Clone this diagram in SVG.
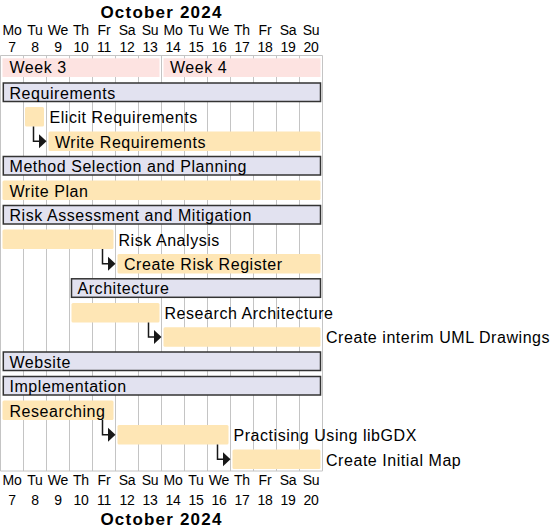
<svg xmlns="http://www.w3.org/2000/svg" width="552" height="531" viewBox="0 0 552 531">
<style>
text{font-family:"Liberation Sans",Arial,Helvetica,sans-serif;fill:#000}
.title{font-size:17px;font-weight:bold;letter-spacing:1.2px;text-anchor:middle}
.day{font-size:14px;text-anchor:middle;letter-spacing:-0.2px}
.lbl{font-size:16px;letter-spacing:0.55px}
.grid{stroke:#c4c4c4;stroke-width:1;fill:none}
.week{fill:#fde3e1}
.task{fill:#fee6b5}
.sep{fill:#e2e2f0;stroke:#333;stroke-width:1.5}
.conn{stroke:#181818;stroke-width:1.5;fill:none}
.head{fill:#181818}
</style>
<rect width="552" height="531" fill="#fff"/>
<g id="calendar">
<text class="title" x="161.5" y="17.5">October 2024</text>
<g class="day">
<text x="12" y="35">Mo</text><text x="35" y="35">Tu</text><text x="58" y="35">We</text><text x="81" y="35">Th</text><text x="104" y="35">Fr</text><text x="127" y="35">Sa</text><text x="150" y="35">Su</text><text x="173" y="35">Mo</text><text x="196" y="35">Tu</text><text x="219" y="35">We</text><text x="242" y="35">Th</text><text x="265" y="35">Fr</text><text x="288" y="35">Sa</text><text x="311" y="35">Su</text>
<text x="12" y="51.5">7</text><text x="35" y="51.5">8</text><text x="58" y="51.5">9</text><text x="81" y="51.5">10</text><text x="104" y="51.5">11</text><text x="127" y="51.5">12</text><text x="150" y="51.5">13</text><text x="173" y="51.5">14</text><text x="196" y="51.5">15</text><text x="219" y="51.5">16</text><text x="242" y="51.5">17</text><text x="265" y="51.5">18</text><text x="288" y="51.5">19</text><text x="311" y="51.5">20</text>
<text x="12" y="485">Mo</text><text x="35" y="485">Tu</text><text x="58" y="485">We</text><text x="81" y="485">Th</text><text x="104" y="485">Fr</text><text x="127" y="485">Sa</text><text x="150" y="485">Su</text><text x="173" y="485">Mo</text><text x="196" y="485">Tu</text><text x="219" y="485">We</text><text x="242" y="485">Th</text><text x="265" y="485">Fr</text><text x="288" y="485">Sa</text><text x="311" y="485">Su</text>
<text x="12" y="504.5">7</text><text x="35" y="504.5">8</text><text x="58" y="504.5">9</text><text x="81" y="504.5">10</text><text x="104" y="504.5">11</text><text x="127" y="504.5">12</text><text x="150" y="504.5">13</text><text x="173" y="504.5">14</text><text x="196" y="504.5">15</text><text x="219" y="504.5">16</text><text x="242" y="504.5">17</text><text x="265" y="504.5">18</text><text x="288" y="504.5">19</text><text x="311" y="504.5">20</text>
</g>
<text class="title" x="161.5" y="525">October 2024</text>
<path class="grid" d="M0.5 55.5H322.5M0.5 471H322.5M0.5 55.5V471M23.5 55.5V471M46.5 55.5V471M69.5 55.5V471M92.5 55.5V471M115.5 55.5V471M138.5 55.5V471M161.5 55.5V471M184.5 55.5V471M207.5 55.5V471M230.5 55.5V471M253.5 55.5V471M276.5 55.5V471M299.5 55.5V471M322.5 55.5V471"/>
</g>
<g id="week3"><rect class="week" x="2.5" y="58.3" width="157" height="18.7"/><text class="lbl" x="9.5" y="73.3">Week 3</text></g>
<g id="week4"><rect class="week" x="163.5" y="58.3" width="157" height="18.7"/><text class="lbl" x="170" y="73.3">Week 4</text></g>

<g id="requirements"><rect class="sep" x="3.3" y="83" width="317.2" height="18.5"/><text class="lbl" x="9.5" y="98.5">Requirements</text></g>
<g id="elicit-requirements"><rect class="task" x="25" y="107" width="19" height="19.5" rx="1.5"/><text class="lbl" x="49.5" y="123">Elicit Requirements</text></g>
<g id="write-requirements"><rect class="task" x="48.5" y="131.5" width="272" height="19.5" rx="1.5"/><text class="lbl" x="55" y="147.5">Write Requirements</text></g>
<g id="method-selection"><rect class="sep" x="3.3" y="156.5" width="317.2" height="18.5"/><text class="lbl" x="9.5" y="172">Method Selection and Planning</text></g>
<g id="write-plan"><rect class="task" x="2.5" y="180.5" width="318" height="19.5" rx="1.5"/><text class="lbl" x="9.5" y="196.5">Write Plan</text></g>
<g id="risk-assessment"><rect class="sep" x="3.3" y="205.5" width="317.2" height="18.5"/><text class="lbl" x="9.5" y="221">Risk Assessment and Mitigation</text></g>
<g id="risk-analysis"><rect class="task" x="2.5" y="229.5" width="111" height="19.5" rx="1.5"/><text class="lbl" x="118.5" y="245.5">Risk Analysis</text></g>
<g id="create-risk-register"><rect class="task" x="117.5" y="254" width="203" height="19.5" rx="1.5"/><text class="lbl" x="124" y="270">Create Risk Register</text></g>
<g id="architecture"><rect class="sep" x="71.5" y="278.8" width="249" height="18.5"/><text class="lbl" x="77.5" y="294.3">Architecture</text></g>
<g id="research-architecture"><rect class="task" x="71.5" y="303" width="88" height="19.5" rx="1.5"/><text class="lbl" x="164.5" y="319">Research Architecture</text></g>
<g id="create-uml"><rect class="task" x="163.5" y="327.3" width="157" height="19.5" rx="1.5"/><text class="lbl" x="326" y="343.3">Create interim UML Drawings</text></g>
<g id="website"><rect class="sep" x="3.3" y="352" width="317.2" height="18.5"/><text class="lbl" x="9.5" y="367.5">Website</text></g>
<g id="implementation"><rect class="sep" x="3.3" y="376.5" width="317.2" height="18.5"/><text class="lbl" x="9.5" y="392">Implementation</text></g>
<g id="researching"><rect class="task" x="2.5" y="400.5" width="111" height="19.5" rx="1.5"/><text class="lbl" x="9.5" y="416.5">Researching</text></g>
<g id="practising-libgdx"><rect class="task" x="117.5" y="425" width="111" height="19.5" rx="1.5"/><text class="lbl" x="233.5" y="441">Practising Using libGDX</text></g>
<g id="create-initial-map"><rect class="task" x="232.5" y="449.5" width="88" height="19.5" rx="1.5"/><text class="lbl" x="326" y="465.5">Create Initial Map</text></g>

<g id="connectors">
<path class="conn" d="M33.5 126.5V141.3H40"/><polygon class="head" points="39,134.3 46.5,141.3 39,148.3"/>
<path class="conn" d="M102.5 249V263.8H109"/><polygon class="head" points="108,256.8 115.5,263.8 108,270.8"/>
<path class="conn" d="M148.5 322.5V337H155"/><polygon class="head" points="154,330 161.5,337 154,344"/>
<path class="conn" d="M102.5 420V434.8H109"/><polygon class="head" points="108,427.8 115.5,434.8 108,441.8"/>
<path class="conn" d="M217.5 444.5V459.3H224"/><polygon class="head" points="223,452.3 230.5,459.3 223,466.3"/>
</g>
</svg>
